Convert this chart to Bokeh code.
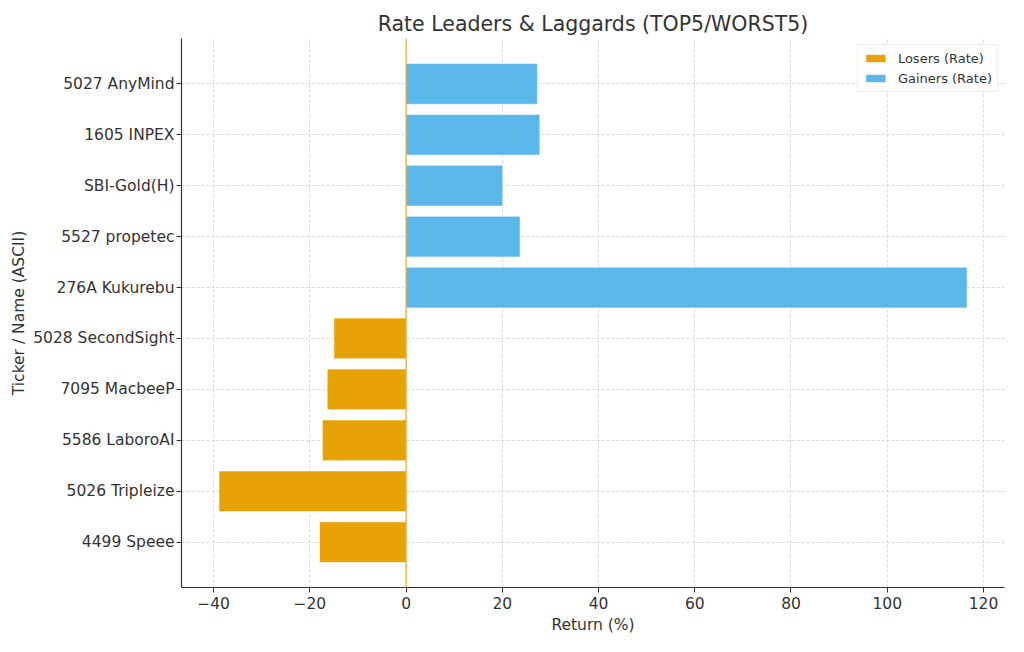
from bokeh.plotting import figure
from bokeh.models import FixedTicker, Span, Legend, LegendItem, Range1d
from bokeh.embed import file_html
from bokeh.resources import INLINE

# Data (bottom to top order as drawn)
labels = ["4499 Speee", "5026 Tripleize", "5586 LaboroAI", "7095 MacbeeP",
          "5028 SecondSight", "276A Kukurebu", "5527 propetec", "SBI-Gold(H)",
          "1605 INPEX", "5027 AnyMind"]
loser_labels = ["4499 Speee", "5026 Tripleize", "5586 LaboroAI", "7095 MacbeeP", "5028 SecondSight"]
loser_values = [-18.0, -38.9, -17.4, -16.4, -15.0]
gainer_labels = ["276A Kukurebu", "5527 propetec", "SBI-Gold(H)", "1605 INPEX", "5027 AnyMind"]
gainer_values = [116.6, 23.7, 20.1, 27.8, 27.3]
x_ticks = [-40, -20, 0, 20, 40, 60, 80, 100, 120]

ORANGE = "#E69F00"
BLUE = "#56B4E9"
FONT = "DejaVu Sans"
TXT = "#333333"

pos = {lab: i for i, lab in enumerate(labels)}
loser_y = [pos[l] for l in loser_labels]
gainer_y = [pos[l] for l in gainer_labels]

allv = loser_values + gainer_values
xmin, xmax = min(min(allv), 0), max(max(allv), 0)
xm = (xmax - xmin) * 0.05
ymin, ymax = -0.4, len(labels) - 1 + 0.4
ym = (ymax - ymin) * 0.05

p = figure(width=1008, height=636, output_backend="svg", toolbar_location=None,
           x_range=Range1d(xmin - xm, xmax + xm), y_range=Range1d(ymin - ym, ymax + ym),
           title="Rate Leaders & Laggards (TOP5/WORST5)",
           min_border_left=181, min_border_right=4, min_border_top=38, min_border_bottom=42)
p.title.align = "center"
p.title.text_font = FONT
p.title.text_font_size = "20.5px"
p.title.text_font_style = "normal"
p.title.text_color = TXT
p.title.standoff = 6
p.outline_line_color = None

r1 = p.hbar(y=loser_y, height=0.8, left=0, right=loser_values, fill_color=ORANGE,
            fill_alpha=0.97, line_color="white", line_width=0.6)
r2 = p.hbar(y=gainer_y, height=0.8, left=0, right=gainer_values, fill_color=BLUE,
            fill_alpha=0.97, line_color="white", line_width=0.6)

p.add_layout(Span(location=0, dimension="height", line_color=ORANGE, line_width=1))

p.xaxis.ticker = FixedTicker(ticks=x_ticks)
p.xaxis.major_label_overrides = {t: (str(t).replace("-", "\u2212")) for t in x_ticks}
p.yaxis.ticker = FixedTicker(ticks=list(range(len(labels))))
p.yaxis.major_label_overrides = {i: l for i, l in enumerate(labels)}

p.xaxis.axis_label = "Return (%)"
p.yaxis.axis_label = "Ticker / Name (ASCII)"
for ax in (p.xaxis, p.yaxis):
    ax.axis_label_text_font = FONT
    ax.axis_label_text_font_size = "15.5px"
    ax.axis_label_text_font_style = "normal"
    ax.axis_label_text_color = TXT
    ax.major_label_text_font = FONT
    ax.major_label_text_font_size = "15.5px"
    ax.major_label_text_color = TXT
    ax.axis_line_color = "#333333"
    ax.axis_line_width = 1.2
    ax.major_tick_line_color = "#333333"
    ax.major_tick_out = 5
    ax.major_tick_in = 0
    ax.minor_tick_line_color = None
p.xaxis.axis_label_standoff = 4
p.xaxis.major_label_standoff = 4
p.yaxis.axis_label_standoff = 2
p.yaxis.major_label_standoff = 2

for g in (p.xgrid, p.ygrid):
    g.grid_line_color = "#cccccc"
    g.grid_line_dash = "3 2"
    g.grid_line_width = 0.8
    g.grid_line_alpha = 0.9

legend = Legend(items=[LegendItem(label="Losers (Rate)", renderers=[r1]),
                       LegendItem(label="Gainers (Rate)", renderers=[r2])],
                location="top_right")
legend.label_text_font = FONT
legend.label_text_font_size = "13px"
legend.label_text_color = TXT
legend.glyph_width = 25
legend.glyph_height = 10
legend.label_height = 16
legend.label_standoff = 10
legend.spacing = 4
legend.padding = 5
legend.margin = 6
legend.border_line_color = "#dddddd"
legend.border_line_width = 1
legend.background_fill_alpha = 0.85
p.add_layout(legend)

open("out.html", "w").write(file_html(p, INLINE))
